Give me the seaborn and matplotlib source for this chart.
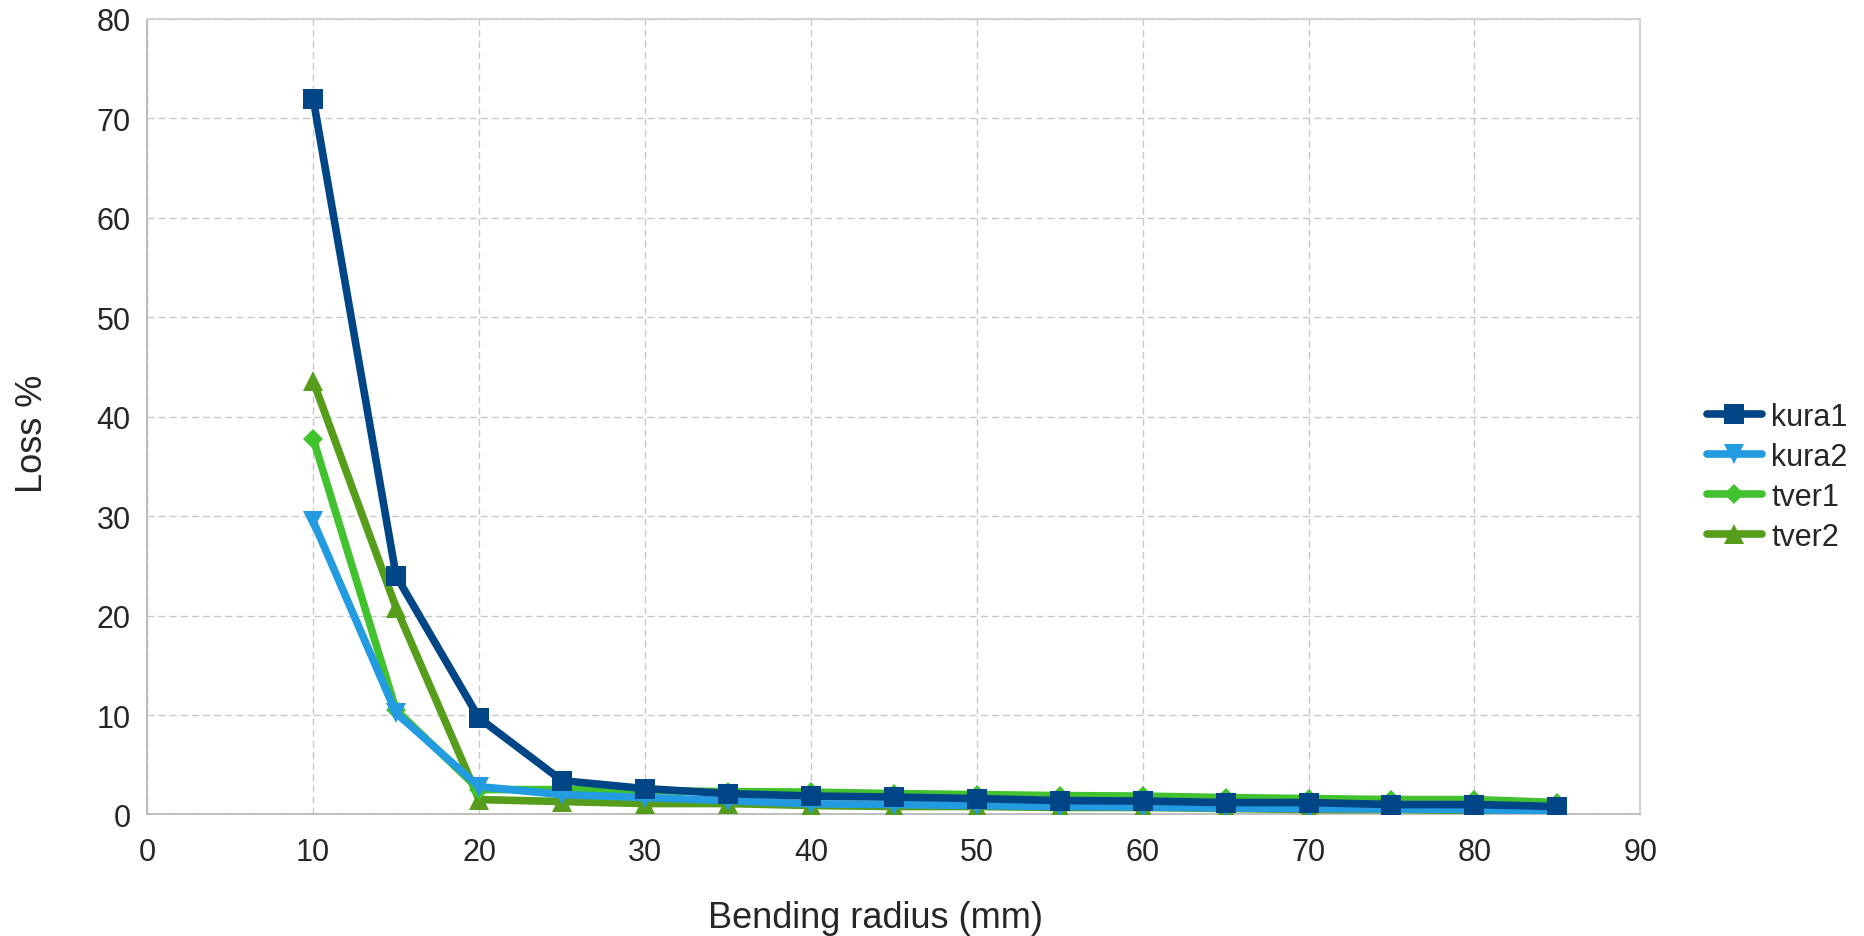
import pandas as pd
import seaborn as sns
import matplotlib.pyplot as plt

# Bending radius (mm) and loss (%) per sample
radius = [10, 15, 20, 25, 30, 35, 40, 45, 50, 55, 60, 65, 70, 75, 80, 85]
kura1 = [72.0, 24.0, 9.7, 3.4, 2.6, 2.1, 1.85, 1.75, 1.6, 1.4, 1.35, 1.2, 1.2, 1.0, 1.0, 0.8]
kura2 = [29.5, 10.2, 2.8, 2.0, 1.7, 1.4, 1.07, 1.0, 0.9, 0.8, 0.75, 0.65, 0.6, 0.55, 0.5, 0.25]
tver1 = [37.8, 10.5, 2.5, 2.5, 2.4, 2.3, 2.25, 2.1, 2.0, 1.9, 1.85, 1.7, 1.6, 1.5, 1.5, 1.2]
tver2 = [43.6, 20.8, 1.5, 1.3, 1.1, 1.1, 0.9, 0.8, 0.8, 0.7, 0.7, 0.6, 0.5, 0.5, 0.4, 0.5]

series = {"kura1": kura1, "kura2": kura2, "tver1": tver1, "tver2": tver2}
colors = {"kura1": "#004586", "kura2": "#229be0", "tver1": "#43c230", "tver2": "#579d1c"}
markers = {"kura1": "s", "kura2": "v", "tver1": "D", "tver2": "^"}
msize = {"kura1": 14, "kura2": 14, "tver1": 10, "tver2": 14}
zorders = {"kura1": 6, "kura2": 5, "tver1": 4, "tver2": 3}

df = pd.DataFrame({"radius": radius, **series})

sns.set_style("white")
plt.rcParams["font.family"] = ["Liberation Sans", "DejaVu Sans"]

fig = plt.figure(figsize=(18.64, 9.37), dpi=100)
ax = fig.add_axes([0.079, 0.1297, 0.801, 0.849])

for name in series:
    sns.lineplot(data=df, x="radius", y=name, ax=ax, color=colors[name],
                 marker=markers[name], markersize=msize[name], markeredgewidth=0,
                 linewidth=5.5, label=name, zorder=zorders[name])

ax.set_xlim(0, 90)
ax.set_ylim(0, 80)
ax.set_xticks(range(0, 91, 10))
ax.set_yticks(range(0, 81, 10))
ax.grid(True, linestyle=(0, (5, 3)), color="#c8c8c8", linewidth=1)
ax.set_axisbelow(True)
for s in ["top", "right"]:
    ax.spines[s].set_color("#d4d4d4")
    ax.spines[s].set_linewidth(1.5)
for s in ["left", "bottom"]:
    ax.spines[s].set_color("#b3b3b3")
    ax.spines[s].set_linewidth(1.2)
ax.tick_params(axis="both", labelsize=22, length=6, color="#b3b3b3", width=1)
ax.tick_params(axis="x", pad=10)
ax.tick_params(axis="y", pad=6)

ax.set_xlabel("Bending radius (mm)", fontsize=26)
ax.set_ylabel("Loss %", fontsize=26)
ax.xaxis.set_label_coords(0.488, -0.108)
ax.yaxis.set_label_coords(-0.065, 0.48)

handles, labels = ax.get_legend_handles_labels()
ax.legend_.remove()
fig.legend(handles, labels, loc="center left", bbox_to_anchor=(0.901, 0.49),
           frameon=False, fontsize=22, handlelength=1.8, labelspacing=0.33,
           handletextpad=0.3)

plt.savefig("out.png", dpi=100)
